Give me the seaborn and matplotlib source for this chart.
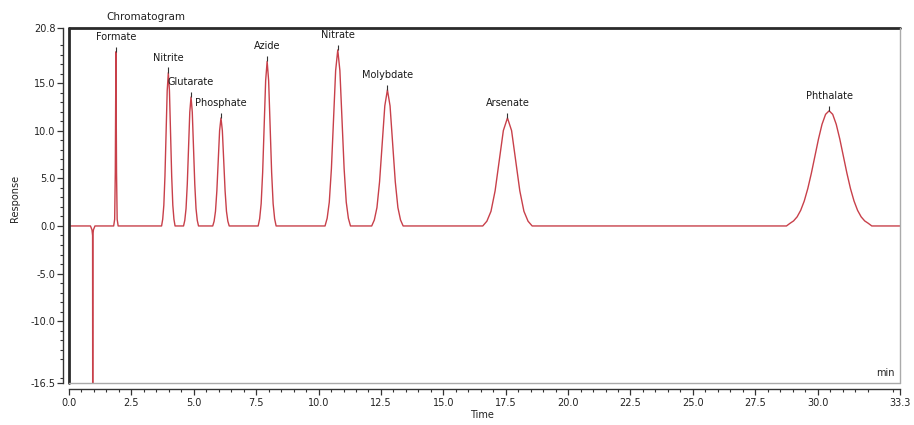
import matplotlib
matplotlib.use("Agg")
import matplotlib.pyplot as plt
from matplotlib.lines import Line2D
import seaborn as sns
import pandas as pd

# ---- data ----
# trace points (time in min, response), grouped by peak
dip_t = [0.00, 0.86, 0.92, 0.945, 0.95, 0.955, 0.98, 1.04]
dip_r = [0.0, 0.0, -0.4, -1.0, -22.0, -1.0, -0.4, 0.0]

formate_t = [1.79, 1.83, 1.855, 1.88, 1.905, 1.93, 1.97]
formate_r = [0.0, 0.7, 5.6, 18.3, 5.6, 0.7, 0.0]

nitrite_t = [3.71, 3.755, 3.80, 3.845, 3.89, 3.935, 3.98, 4.025, 4.07, 4.115, 4.16, 4.205, 4.25]
nitrite_r = [0.0, 0.71, 2.18, 5.23, 9.76, 14.21, 16.1, 14.21, 9.76, 5.23, 2.18, 0.71, 0.0]

glutarate_t = [4.59, 4.64, 4.69, 4.74, 4.79, 4.84, 4.89, 4.94, 4.99, 5.04, 5.09, 5.14, 5.19]
glutarate_r = [0.0, 0.59, 1.83, 4.40, 8.22, 11.96, 13.55, 11.96, 8.22, 4.40, 1.83, 0.59, 0.0]

phosphate_t = [5.76, 5.815, 5.87, 5.925, 5.98, 6.035, 6.09, 6.145, 6.20, 6.255, 6.31, 6.365, 6.42]
phosphate_r = [0.0, 0.50, 1.54, 3.69, 6.88, 10.02, 11.35, 10.02, 6.88, 3.69, 1.54, 0.50, 0.0]

azide_t = [7.58, 7.64, 7.70, 7.76, 7.82, 7.88, 7.94, 8.00, 8.06, 8.12, 8.18, 8.24, 8.30]
azide_r = [0.0, 0.76, 2.34, 5.62, 10.49, 15.27, 17.3, 15.27, 10.49, 5.62, 2.34, 0.76, 0.0]

nitrate_t = [10.26, 10.345, 10.43, 10.515, 10.60, 10.685, 10.77, 10.855, 10.94, 11.025, 11.11, 11.195, 11.28]
nitrate_r = [0.0, 0.81, 2.50, 6.01, 11.22, 16.33, 18.5, 16.33, 11.22, 6.01, 2.50, 0.81, 0.0]

molybdate_t = [12.13, 12.235, 12.34, 12.445, 12.55, 12.655, 12.76, 12.865, 12.97, 13.075, 13.18, 13.285, 13.39]
molybdate_r = [0.0, 0.63, 1.93, 4.64, 8.67, 12.62, 14.3, 12.62, 8.67, 4.64, 1.93, 0.63, 0.0]

arsenate_t = [16.58, 16.745, 16.91, 17.075, 17.24, 17.405, 17.57, 17.735, 17.90, 18.065, 18.23, 18.395, 18.56]
arsenate_r = [0.0, 0.50, 1.54, 3.69, 6.88, 10.02, 11.35, 10.02, 6.88, 3.69, 1.54, 0.50, 0.0]

phthalate_t = [28.750, 28.893, 29.035, 29.178, 29.320, 29.463, 29.605, 29.748, 29.890,
               30.033, 30.175, 30.318, 30.460, 30.603, 30.745, 30.888, 31.030, 31.173,
               31.315, 31.458, 31.600, 31.743, 31.885, 32.028, 32.170, 33.3]
phthalate_r = [0.0, 0.28, 0.53, 0.96, 1.64, 2.62, 3.93, 5.54, 7.34,
               9.13, 10.68, 11.73, 12.1, 11.73, 10.68, 9.13, 7.34, 5.54,
               3.93, 2.62, 1.64, 0.96, 0.53, 0.28, 0.0, 0.0]

# peak annotations
peak_names = ["Formate", "Nitrite", "Glutarate", "Phosphate", "Azide",
              "Nitrate", "Molybdate", "Arsenate", "Phthalate"]
peak_times = [1.88, 3.98, 4.89, 6.09, 7.94, 10.77, 12.76, 17.57, 30.46]
peak_heights = [18.3, 16.1, 13.55, 11.35, 17.3, 18.5, 14.3, 11.35, 12.1]

x_ticks = [0.0, 2.5, 5.0, 7.5, 10.0, 12.5, 15.0, 17.5, 20.0, 22.5, 25.0, 27.5, 30.0, 33.3]
x_tick_labels = ["0.0", "2.5", "5.0", "7.5", "10.0", "12.5", "15.0", "17.5",
                 "20.0", "22.5", "25.0", "27.5", "30.0", "33.3"]
y_ticks = [-16.5, -10.0, -5.0, 0.0, 5.0, 10.0, 15.0, 20.8]
y_tick_labels = ["-16.5", "-10.0", "-5.0", "0.0", "5.0", "10.0", "15.0", "20.8"]

# ---- build table ----
times = (dip_t + formate_t + nitrite_t + glutarate_t + phosphate_t + azide_t
         + nitrate_t + molybdate_t + arsenate_t + phthalate_t)
resps = (dip_r + formate_r + nitrite_r + glutarate_r + phosphate_r + azide_r
         + nitrate_r + molybdate_r + arsenate_r + phthalate_r)
df = pd.DataFrame({"Time": times, "Response": resps})

sns.set_style("white")
plt.rcParams["font.family"] = ["DejaVu Sans"]

W, H = 914, 425
fig = plt.figure(figsize=(W / 100, H / 100), dpi=100)
x0, x1, yt, yb = 69, 900, 28, 383
ax = fig.add_axes([x0 / W, 1 - yb / H, (x1 - x0) / W, (yb - yt) / H])

line_color = "#c8404a"
sns.lineplot(data=df, x="Time", y="Response", ax=ax, color=line_color,
             linewidth=1.0, estimator=None, sort=False)

ax.set_xlim(0, 33.3)
ax.set_ylim(-16.5, 20.8)

# apex markers and labels
for name, t, h in zip(peak_names, peak_times, peak_heights):
    ax.vlines(t, h, h + 0.55, color="#333333", linewidth=0.8)
    ax.annotate(name, xy=(t, h), xytext=(0, 10), textcoords="offset pixels",
                ha="center", va="bottom", fontsize=7, color="#1a1a1a")

# axes styling
for s in ["top", "right"]:
    ax.spines[s].set_visible(False)
for s in ["left", "bottom"]:
    ax.spines[s].set_visible(True)
    ax.spines[s].set_color("#333333")
    ax.spines[s].set_linewidth(1.0)
    ax.spines[s].set_position(("outward", 4.3))

ax.set_xticks(x_ticks)
ax.set_xticklabels(x_tick_labels)
ax.set_yticks(y_ticks)
ax.set_yticklabels(y_tick_labels)
ax.set_xticks([v * 0.5 for v in range(0, 67) if v % 5 != 0], minor=True)
ax.set_yticks([v for v in range(-16, 21) if v % 5 != 0], minor=True)
ax.tick_params(axis="both", which="major", direction="out", length=4.3, width=0.9,
               color="#333333", labelsize=7, labelcolor="#222222")
ax.tick_params(axis="both", which="minor", direction="out", length=2.2, width=0.8,
               color="#333333")
ax.tick_params(axis="x", which="major", pad=2.5)
ax.tick_params(axis="y", which="major", pad=1.2)
ax.tick_params(axis="both", which="both", bottom=True, left=True)

ax.set_xlabel("Time", fontsize=7, color="#222222")
ax.set_ylabel("Response", fontsize=7, color="#222222")
ax.xaxis.set_label_coords((482 - x0) / (x1 - x0), (yb - 410) / (yb - yt))
ax.yaxis.set_label_coords((20 - x0) / (x1 - x0), (yb - 198) / (yb - yt))

# plot frame
frame = [((0, 1), (1, 1), "#2a2a2a", 2.0),
         ((0, 0), (0, 1), "#2a2a2a", 2.0),
         ((1, 1), (0, 1), "#aaaaaa", 1.0),
         ((0, 1), (0, 0), "#aaaaaa", 1.0)]
for xs, ys, c, lw in frame:
    ax.add_line(Line2D(xs, ys, transform=ax.transAxes, color=c, linewidth=lw,
                       clip_on=False, zorder=5))

ax.text((895 - x0) / (x1 - x0), (yb - 373) / (yb - yt), "min", transform=ax.transAxes,
        ha="right", va="center", fontsize=7, color="#222222")
fig.text(106 / W, 1 - 17 / H, "Chromatogram", ha="left", va="center",
         fontsize=7.5, color="#222222")

fig.savefig("out.png", dpi=100)
